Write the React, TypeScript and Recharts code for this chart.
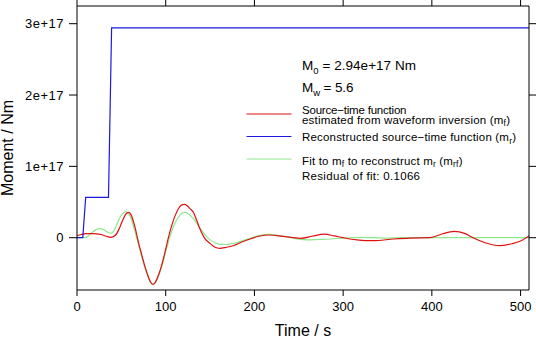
import React from "react";
import { LineChart, Line, XAxis, YAxis } from "recharts";

const FONT = "'Liberation Sans', Arial, Helvetica, sans-serif";

// values in units of 1e17 Nm
const redT = [0, 5, 10, 18, 27, 33, 38, 43, 47, 51, 55, 58, 61, 65.5, 69, 73, 77, 80.5, 83, 85.5, 88, 92, 96, 99.3, 103, 107, 111, 114.5, 118, 121, 124, 128, 131, 135, 139, 144, 150, 155, 161, 168, 176, 186, 195, 205, 217, 232, 252, 265, 279, 290, 300, 315, 334, 357, 375, 398, 412, 425, 437, 447, 460, 476, 490, 500, 510];
const redV = [0.03, 0.045, 0.058, 0.058, 0.045, 0.02, 0.005, 0.03, 0.11, 0.23, 0.33, 0.356, 0.32, 0.14, -0.05, -0.24, -0.42, -0.55, -0.625, -0.655, -0.63, -0.52, -0.36, -0.196, 0.0, 0.18, 0.32, 0.41, 0.46, 0.468, 0.45, 0.4, 0.36, 0.24, 0.11, -0.01, -0.08, -0.13, -0.149, -0.135, -0.112, -0.06, -0.018, 0.02, 0.038, 0.02, -0.008, 0.02, 0.05, 0.025, 0.0, -0.03, -0.042, -0.018, -0.005, 0, 0.055, 0.088, 0.06, -0.005, -0.07, -0.112, -0.085, -0.046, 0.03];

const greenT = [0, 9, 13, 17, 21, 26, 31, 35.5, 39, 43, 47, 51, 54.5, 58, 61, 65, 69, 73, 77, 80.5, 83, 86, 89, 93, 97, 100.5, 103, 107, 111, 114.5, 118, 122, 126, 131, 135, 139, 145, 150, 156, 162, 168, 176, 186, 195, 205, 217, 228, 240, 250, 260, 272, 286, 300, 319, 335, 350, 365, 510];
const greenV = [0, 0, 0.03, 0.075, 0.11, 0.126, 0.105, 0.07, 0.065, 0.13, 0.25, 0.33, 0.365, 0.34, 0.27, 0.1, -0.08, -0.27, -0.44, -0.56, -0.63, -0.655, -0.62, -0.5, -0.34, -0.17, -0.06, 0.1, 0.22, 0.29, 0.34, 0.356, 0.33, 0.27, 0.2, 0.13, 0.03, -0.03, -0.075, -0.093, -0.095, -0.08, -0.045, -0.01, 0.03, 0.047, 0.03, 0.005, -0.02, -0.03, -0.025, -0.018, -0.005, 0.005, 0, -0.005, 0, 0];

const blueT = [0, 6.5, 9.8, 35.5, 39, 510];
const blueV = [0, 0, 0.565, 0.565, 2.94, 2.94];

const xTicks = [0, 100, 200, 300, 400, 500];
const yTicks = [0, 1, 2, 3];
const xDomain = [0, 509.5];
const yDomain = [-0.733, 3.248];

const toData = (ts: number[], vs: number[]) => ts.map((t, i) => ({ t, v: vs[i] }));
const redData = toData(redT, redV);
const greenData = toData(greenT, greenV);
const blueData = toData(blueT, blueV);

const yFmt = (v: number) => (v === 0 ? "0" : `${v}e+17`);
const blank = () => "";

const tickStyle = { fill: "#000", fontSize: 13, fontFamily: FONT };
const yTickStyle = { fill: "#000", fontSize: 13, fontFamily: FONT, letterSpacing: 0.5 };
const axisLine = { stroke: "#000", strokeWidth: 1 };

const LegendOverlay = () => {
  const fs = 11.5;
  const sub = { fontSize: 8.5 };
  const X = 302;
  return (
    <svg
      width={536}
      height={337}
      style={{ position: "absolute", left: 0, top: 0, pointerEvents: "none" }}
    >
      <g fontFamily={FONT} fill="#000">
        <text x={X} y={70} fontSize={13.5} textLength={114} lengthAdjust="spacing">
          M<tspan dy={3.5} fontSize={9.5}>0</tspan>
          <tspan dy={-3.5}> = 2.94e+17 Nm</tspan>
        </text>
        <text x={X} y={92} fontSize={13.5} textLength={51.5} lengthAdjust="spacing">
          M<tspan dy={3.5} fontSize={9.5}>w</tspan>
          <tspan dy={-3.5}> = 5.6</tspan>
        </text>
        <line x1={246.5} x2={291.5} y1={114} y2={114} stroke="#e01010" strokeWidth={1} />
        <text x={X} y={113.5} fontSize={fs} textLength={104.5} lengthAdjust="spacing">
          Source−time function
        </text>
        <text x={X} y={123.5} fontSize={fs} textLength={208} lengthAdjust="spacing">
          estimated from waveform inversion (m<tspan dy={2.5} {...sub}>f</tspan>
          <tspan dy={-2.5}>)</tspan>
        </text>
        <line x1={246.5} x2={291.5} y1={136.5} y2={136.5} stroke="#1a1ae0" strokeWidth={1} />
        <text x={X} y={141} fontSize={fs} textLength={214} lengthAdjust="spacing">
          Reconstructed source−time function (m<tspan dy={2.5} {...sub}>r</tspan>
          <tspan dy={-2.5}>)</tspan>
        </text>
        <line x1={246.5} x2={291.5} y1={159} y2={159} stroke="#8ce88c" strokeWidth={1} />
        <text x={X} y={164.5} fontSize={fs} textLength={160.5} lengthAdjust="spacing">
          Fit to m<tspan dy={2.5} {...sub}>f</tspan>
          <tspan dy={-2.5}> to reconstruct m</tspan>
          <tspan dy={2.5} {...sub}>r</tspan>
          <tspan dy={-2.5}> (m</tspan>
          <tspan dy={2.5} {...sub}>rf</tspan>
          <tspan dy={-2.5}>)</tspan>
        </text>
        <text x={X} y={179.5} fontSize={fs} textLength={118} lengthAdjust="spacing">
          Residual of fit: 0.1066
        </text>
      </g>
    </svg>
  );
};

const YLabel = (props: any) => {
  const vb = props.viewBox || {};
  const cy = (vb.y ?? 6) + (vb.height ?? 284) / 2;
  const x = 13;
  return (
    <text
      x={x}
      y={cy}
      transform={`rotate(-90 ${x} ${cy})`}
      textAnchor="middle"
      fontSize={16}
      fontFamily={FONT}
      fill="#000"
    >
      Moment / Nm
    </text>
  );
};

export default function App() {
  return (
    <div style={{ position: "absolute", left: 0, top: 0, width: 536, height: 337, background: "#fff" }}>
      <LineChart
        width={536}
        height={337}
        margin={{ top: 0, right: 0, bottom: 0, left: 0 }}
      >
        <XAxis
          xAxisId="b"
          type="number"
          dataKey="t"
          domain={xDomain}
          allowDataOverflow
          ticks={xTicks}
          height={47}
          tick={tickStyle}
          tickSize={6}
          tickMargin={6}
          tickLine={axisLine}
          axisLine={axisLine}
          label={{
            value: "Time / s",
            position: "insideBottom",
            offset: 1.5,
            fill: "#000",
            fontSize: 16,
            fontFamily: FONT,
          }}
        />
        <XAxis
          xAxisId="t"
          orientation="top"
          type="number"
          dataKey="t"
          domain={xDomain}
          allowDataOverflow
          ticks={xTicks}
          height={6}
          tick={tickStyle}
          tickFormatter={blank}
          tickSize={6}
          tickLine={axisLine}
          axisLine={axisLine}
        />
        <YAxis
          yAxisId="l"
          type="number"
          domain={yDomain}
          allowDataOverflow
          ticks={yTicks}
          width={77}
          tick={yTickStyle}
          tickFormatter={yFmt}
          tickSize={8}
          tickMargin={5}
          tickLine={axisLine}
          axisLine={axisLine}
          label={<YLabel />}
        />
        <YAxis
          yAxisId="r"
          orientation="right"
          type="number"
          domain={yDomain}
          allowDataOverflow
          ticks={yTicks}
          width={7}
          tick={tickStyle}
          tickFormatter={blank}
          tickSize={7}
          tickLine={axisLine}
          axisLine={axisLine}
        />
        <Line
          xAxisId="b"
          yAxisId="l"
          data={greenData}
          dataKey="v"
          type="monotone"
          stroke="#8ce88c"
          strokeWidth={1.2}
          dot={false}
          activeDot={false}
          isAnimationActive={false}
        />
        <Line
          xAxisId="b"
          yAxisId="l"
          data={redData}
          dataKey="v"
          type="monotone"
          stroke="#e01010"
          strokeWidth={1.2}
          dot={false}
          activeDot={false}
          isAnimationActive={false}
        />
        <Line
          xAxisId="b"
          yAxisId="l"
          data={blueData}
          dataKey="v"
          type="linear"
          stroke="#1a1ae0"
          strokeWidth={1.2}
          dot={false}
          activeDot={false}
          isAnimationActive={false}
        />
      </LineChart>
      <LegendOverlay />
    </div>
  );
}
